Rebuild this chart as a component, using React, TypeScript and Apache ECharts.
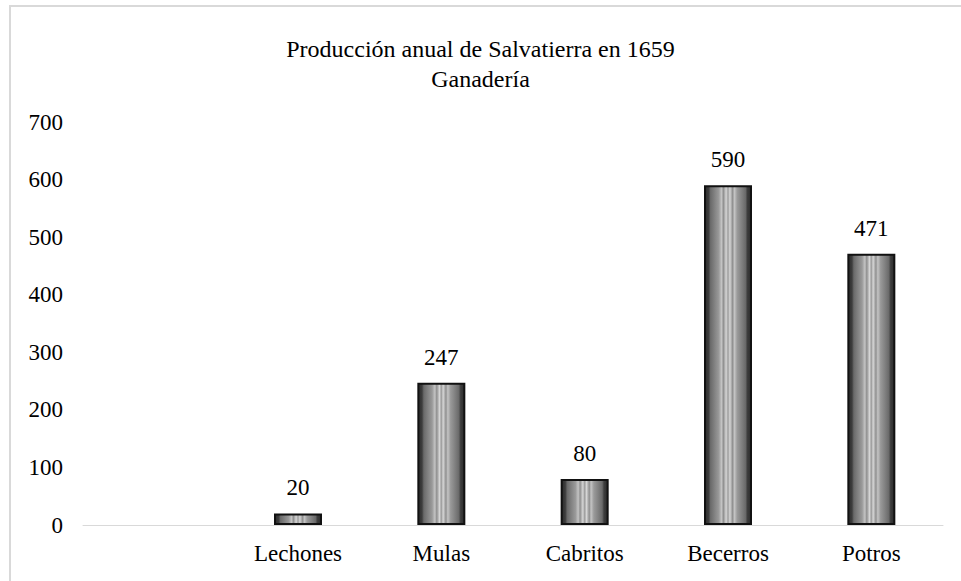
import React, { useEffect, useRef } from "react";
import * as echarts from "echarts";

const titleLines = ["Producción anual de Salvatierra en 1659", "Ganadería"];
const categories = ["", "Lechones", "Mulas", "Cabritos", "Becerros", "Potros"];
const values: (number | null)[] = [null, 20, 247, 80, 590, 471];
const yTicks = { min: 0, max: 700, interval: 100 };

const FONT = "Liberation Serif, Times New Roman, serif";

const stripeStops = [
  [0, "#2b2b2b"],
  [0.08, "#3d3d3d"],
  [0.12, "#6a6a6a"],
  [0.22, "#858585"],
  [0.3, "#9a9a9a"],
  [0.36, "#c4c4c4"],
  [0.4, "#8f8f8f"],
  [0.46, "#d6d6d6"],
  [0.5, "#9c9c9c"],
  [0.54, "#d6d6d6"],
  [0.6, "#8f8f8f"],
  [0.64, "#c4c4c4"],
  [0.7, "#9a9a9a"],
  [0.78, "#858585"],
  [0.88, "#6a6a6a"],
  [0.92, "#3d3d3d"],
  [1, "#2b2b2b"],
];

export default function App() {
  const ref = useRef<HTMLDivElement>(null);
  useEffect(() => {
    if (!ref.current) return;
    const chart = echarts.init(ref.current, undefined, { renderer: "svg" });
    chart.setOption({
      animation: false,
      backgroundColor: "#ffffff",
      textStyle: { fontFamily: FONT },
      title: {
        text: titleLines.join("\n"),
        left: "center",
        top: 29,
        textStyle: {
          fontFamily: FONT,
          fontSize: 24,
          fontWeight: "normal",
          color: "#000",
          lineHeight: 30,
        },
      },
      graphic: [
        {
          type: "rect",
          shape: { x: 10, y: 6, width: 1200, height: 1200 },
          style: { fill: "none", stroke: "#d9d9d9", lineWidth: 2 },
          silent: true,
        },
      ],
      grid: { left: 83, right: 18, top: 122, bottom: 56 },
      xAxis: {
        type: "category",
        data: categories,
        axisLine: { show: true, lineStyle: { color: "#d9d9d9", width: 1 } },
        axisTick: { show: false },
        axisLabel: {
          fontFamily: FONT,
          fontSize: 23,
          color: "#000",
          margin: 17,
        },
      },
      yAxis: {
        type: "value",
        min: yTicks.min,
        max: yTicks.max,
        interval: yTicks.interval,
        axisLine: { show: false },
        axisTick: { show: false },
        splitLine: { show: false },
        axisLabel: {
          fontFamily: FONT,
          fontSize: 23,
          color: "#000",
          margin: 20,
        },
      },
      series: [
        {
          type: "bar",
          data: values,
          barWidth: 48,
          itemStyle: {
            color: {
              type: "linear",
              x: 0,
              y: 0,
              x2: 1,
              y2: 0,
              colorStops: stripeStops.map(([offset, color]) => ({ offset, color })),
            },
            borderColor: "#111",
            borderWidth: 2,
          },
          label: {
            show: true,
            position: "top",
            distance: 14,
            fontFamily: FONT,
            fontSize: 23,
            color: "#000",
          },
        },
      ],
    });
    return () => chart.dispose();
  }, []);
  return (
    <div
      ref={ref}
      style={{ position: "absolute", left: 0, top: 0, width: 961, height: 581 }}
    />
  );
}
